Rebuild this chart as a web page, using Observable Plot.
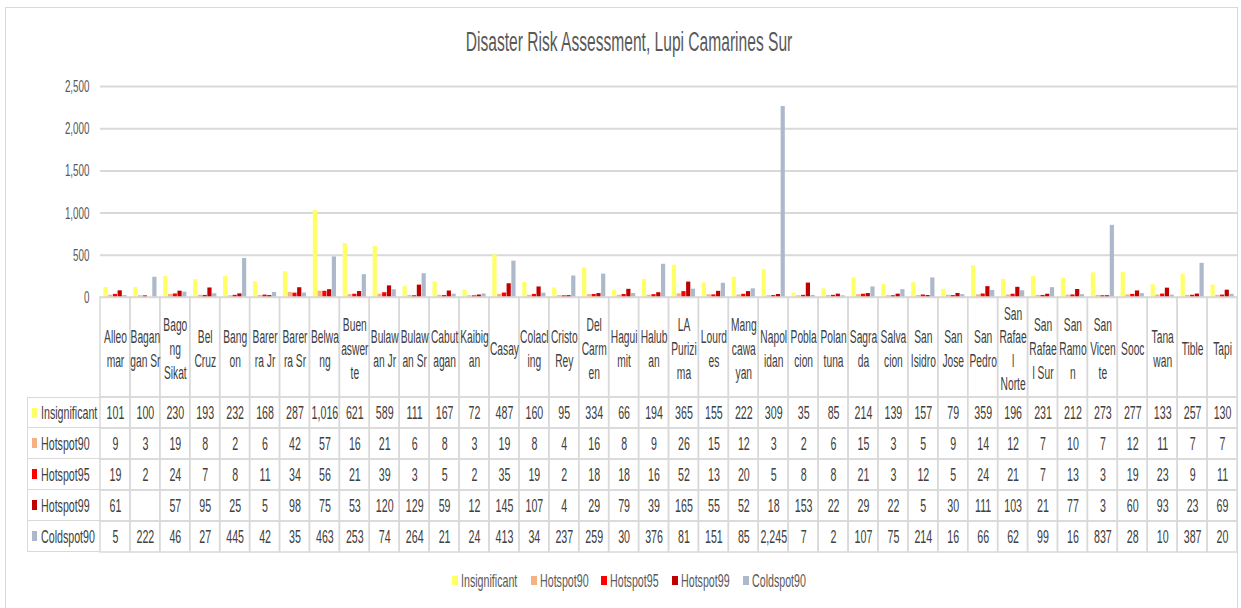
<!DOCTYPE html>
<html>
<head>
<meta charset="utf-8">
<script src="https://cdn.jsdelivr.net/npm/d3@7"></script>
<script src="https://cdn.jsdelivr.net/npm/@observablehq/plot@0.6"></script>
<style>
  body { margin: 0; background: #fff; }
  #chart { position: relative; width: 1241px; height: 608px; overflow: hidden; background: #fff;
           font-family: "Liberation Sans", Arial, sans-serif; }
  #frame { position: absolute; left: 5px; top: 7px; width: 1231px; height: 700px; border: 1px solid #d9d9d9; }
  .abs { position: absolute; left: 0; top: 0; }
  .st { display: inline-block; transform-origin: left center; transform: scale(0.82,1.42); white-space: nowrap; }
  #title { position: absolute; left: 0; width: 1258px; top: 31px; line-height: 22px; text-align: center;
           font-size: 19px; color: #595959; }
  #title .st { transform-origin: center center; }
  #rowlabels { position: absolute; left: 27px; top: 397px; width: 73px; }
  #rowlabels .r { height: 31px; box-sizing: border-box; border-left: 1.5px solid #d9d9d9; border-bottom: 1.5px solid #d9d9d9;
                  display: flex; align-items: center; font-size: 13px; color: #404040; overflow: visible; }
  #rowlabels .r:first-child { border-top: 1.5px solid #d9d9d9; }
  #rowlabels .sw { width: 4.5px; height: 10px; margin-left: 4px; margin-right: 4px; flex: none; }
  #legend { position: absolute; left: 0; width: 1258px; top: 571px; height: 18px; display: flex; justify-content: center;
            align-items: center; font-size: 13px; color: #595959; }
  #legend .it { display: flex; align-items: center; margin: 0 6.5px; }
  #legend .sw { width: 6px; height: 9px; margin-right: 3px; }
</style>
</head>
<body>
<div id="chart">
  <div id="frame"></div>
  <div id="title"><span class="st">Disaster Risk Assessment, Lupi Camarines Sur</span></div>
  <div id="bars" class="abs"></div>
  <div id="head" class="abs" style="top:297px"></div>
  <div id="body" class="abs" style="top:397px"></div>
  <div id="rowlabels"></div>
  <div id="legend"></div>
</div>
<script>
// ---- data ----
const categories = ["Alleomar","Bagangan Sr","Bagong Sikat","Bel Cruz","Bangon","Barerra Jr","Barerra Sr","Belwang",
  "Buenaswerte","Bulawan Jr","Bulawan Sr","Cabutagan","Kaibigan","Casay","Colacling","Cristo Rey","Del Carmen",
  "Haguimit","Haluban","LA Purizima","Lourdes","Mangcawayan","Napolidan","Poblacion","Polantuna","Sagrada",
  "Salvacion","San Isidro","San Jose","San Pedro","San Rafael Norte","San Rafael Sur","San Ramon","San Vicente",
  "Sooc","Tanawan","Tible","Tapi"];
const categoryTickLabels = ["Alleo\nmar","Bagan\ngan Sr","Bago\nng\nSikat","Bel\nCruz","Bang\non","Barer\nra Jr","Barer\nra Sr",
  "Belwa\nng","Buen\naswer\nte","Bulaw\nan Jr","Bulaw\nan Sr","Cabut\nagan","Kaibig\nan","Casay","Colacl\ning","Cristo\nRey",
  "Del\nCarm\nen","Hagui\nmit","Halub\nan","LA\nPurizi\nma","Lourd\nes","Mang\ncawa\nyan","Napol\nidan","Pobla\ncion",
  "Polan\ntuna","Sagra\nda","Salva\ncion","San\nIsidro","San\nJose","San\nPedro","San\nRafae\nl\nNorte","San\nRafae\nl Sur",
  "San\nRamo\nn","San\nVicen\nte","Sooc","Tana\nwan","Tible","Tapi"];
const seriesNames = ["Insignificant","Hotspot90","Hotspot95","Hotspot99","Coldspot90"];
const seriesColors = ["#ffff66","#f4b183","#ff0000","#c00000","#adb9ca"];
const insignificant = [101,100,230,193,232,168,287,1016,621,589,111,167,72,487,160,95,334,66,194,365,155,222,309,35,85,214,139,157,79,359,196,231,212,273,277,133,257,130];
const hotspot90 = [9,3,19,8,2,6,42,57,16,21,6,8,3,19,8,4,16,8,9,26,15,12,3,2,6,15,3,5,9,14,12,7,10,7,12,11,7,7];
const hotspot95 = [19,2,24,7,8,11,34,56,21,39,3,5,2,35,19,2,18,18,16,52,13,20,5,8,8,21,3,12,5,24,21,7,13,3,19,23,9,11];
const hotspot99 = [61,null,57,95,25,5,98,75,53,120,129,59,12,145,107,4,29,79,39,165,55,52,18,153,22,29,22,5,30,111,103,21,77,3,60,93,23,69];
const coldspot90 = [5,222,46,27,445,42,35,463,253,74,264,21,24,413,34,237,259,30,376,81,151,85,2245,7,2,107,75,214,16,66,62,99,16,837,28,10,387,20];
const yTicks = [0,500,1000,1500,2000,2500];

const seriesValues = [insignificant, hotspot90, hotspot95, hotspot99, coldspot90];
const rows = seriesNames.flatMap((s, si) => categories.map((c, ci) => ({series: s, category: c, value: seriesValues[si][ci]})));
const fmt = d3.format(",");

// ---- layout ----
const W = 1241, ML = 100, MR = 4;
const SX = 0.82, SY = 1.42;
const step = (W - ML - MR) / categories.length;
const bw = 4.2, gap = 0.55;
const groupW = seriesNames.length * bw + (seriesNames.length - 1) * gap;
const off = (step - groupW) / 2;
const FONT = '"Liberation Sans", Arial, sans-serif';
const baseStyle = {background: "transparent", overflow: "visible", fontFamily: FONT};

const barMarks = seriesNames.map((s, si) => {
  const insetLeft = off + si * (bw + gap);
  return Plot.barY(categories.map((c, ci) => ({category: c, value: seriesValues[si][ci]})).filter(d => d.value != null), {
    x: "category", y: "value", fill: seriesColors[si],
    insetLeft, insetRight: step - insetLeft - bw, insetTop: -1.5
  });
});

const bars = Plot.plot({
  width: W, height: 300, marginLeft: ML, marginRight: MR, marginTop: 86, marginBottom: 3,
  style: {...baseStyle, fontSize: "12px", color: "#595959"},
  x: {domain: categories, padding: 0, axis: null},
  y: {domain: [0, 2500], ticks: yTicks, tickFormat: fmt, tickSize: 0, tickPadding: 11, label: null},
  marks: [
    Plot.ruleY(yTicks.slice(1), {stroke: "#d9d9d9", strokeWidth: 2}),
    Plot.ruleY([0], {stroke: "#d9d9d9", strokeWidth: 1.5}),
    ...barMarks
  ]
});
document.getElementById("bars").appendChild(bars);

const head = Plot.plot({
  width: W, height: 100, marginLeft: ML, marginRight: MR, marginTop: 0, marginBottom: 0,
  style: {...baseStyle, color: "#404040"},
  x: {domain: categories, padding: 0, axis: null},
  marks: [
    Plot.cell(categories, {x: d => d, fill: "none", stroke: "#d9d9d9", strokeWidth: 1.5}),
    Plot.text(categories, {x: d => d, text: (d, i) => categoryTickLabels[i], fontSize: 12.5, lineHeight: 1.33, fill: "#404040"})
  ]
});
document.getElementById("head").appendChild(head);

const body = Plot.plot({
  width: W, height: 155, marginLeft: ML, marginRight: MR, marginTop: 0, marginBottom: 0,
  style: {...baseStyle, color: "#404040"},
  x: {domain: categories, padding: 0, axis: null},
  y: {domain: seriesNames, padding: 0, axis: null},
  marks: [
    Plot.cell(rows, {x: "category", y: "series", fill: "none", stroke: "#d9d9d9", strokeWidth: 1.5}),
    Plot.text(rows.filter(d => d.value != null), {x: "category", y: "series", text: d => fmt(d.value), fontSize: 13, fill: "#404040"})
  ]
});
document.getElementById("body").appendChild(body);

// narrow & tall text like the reference (Calibri, stretched)
for (const svg of [bars, head, body]) {
  svg.querySelectorAll("text").forEach(t => {
    t.setAttribute("transform", (t.getAttribute("transform") || "") + ` scale(${SX},${SY})`);
  });
}

// row labels & legend
const rl = document.getElementById("rowlabels");
const lg = document.getElementById("legend");
seriesNames.forEach((s, i) => {
  rl.insertAdjacentHTML("beforeend", `<div class="r"><span class="sw" style="background:${seriesColors[i]}"></span><span class="st">${s}</span></div>`);
  lg.insertAdjacentHTML("beforeend", `<div class="it"><span class="sw" style="background:${seriesColors[i]}"></span><span class="st">${s}</span></div>`);
});
// compensate layout width for the horizontal squeeze
document.querySelectorAll("#legend .st, #rowlabels .st").forEach(el => {
  el.style.marginRight = (-(1 - SX) * el.offsetWidth) + "px";
});
</script>
</body>
</html>
